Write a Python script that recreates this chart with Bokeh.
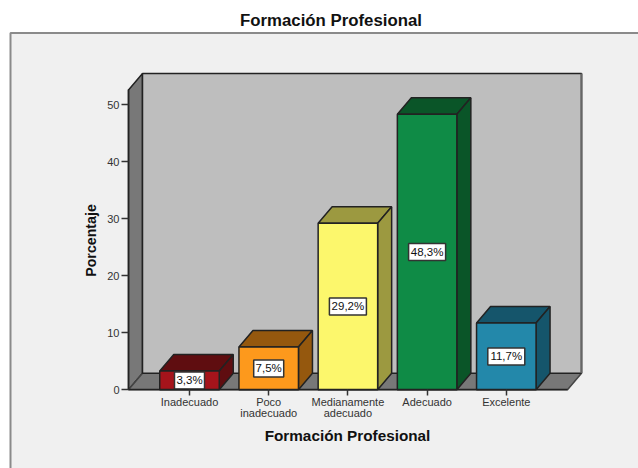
import math
from bokeh.embed import file_html
from bokeh.resources import INLINE
from bokeh.plotting import figure
from bokeh.core.properties import value
from bokeh.models import ColumnDataSource, FixedTicker, LinearAxis, Range1d

categories = ["Inadecuado", "Poco\ninadecuado", "Medianamente\nadecuado", "Adecuado", "Excelente"]
values = [3.3, 7.5, 29.2, 48.3, 11.7]
labels = ["3,3%", "7,5%", "29,2%", "48,3%", "11,7%"]
front_colors = ["#a5141b", "#fd991c", "#fcf76c", "#0f8b46", "#2388aa"]
side_colors = ["#5f0d10", "#95580e", "#9c9940", "#0a5528", "#15556b"]
y_ticks = [0, 10, 20, 30, 40, 50]
chart_title = "Formación Profesional"
x_title = "Formación Profesional"
y_title = "Porcentaje"

PANEL = "#f0f0f0"
WALL = "#787878"
BACK = "#bebebe"
EDGE = "#222222"
W, H = 638, 468

# scale of the pseudo-3D box: pixels per data unit, and where data zero falls
X_PX = 79.2
Y_PX = 5.706
X0 = 189.0
Y0 = 389.3


def fx(px):
    return (px - X0) / X_PX


def fy(px):
    return (Y0 - px) / Y_PX


DX = 14 / X_PX
DY = 16.5 / Y_PX
BAR_W = 59.5 / X_PX
X_LEFT = fx(128)
X_FLOOR_R = fx(567)
Y_WALL = 52.55

p = figure(width=W, height=H, output_backend="svg", toolbar_location=None,
           x_range=Range1d(fx(0), fx(W)), y_range=Range1d(fy(H), fy(0)),
           x_axis_type=None, y_axis_type=None,
           min_border=0, background_fill_color="white", border_fill_color="white",
           outline_line_color=None)
p.grid.visible = False

# panel behind the chart
p.quad(left=[fx(10)], right=[fx(W + 20)], top=[fy(32.5)], bottom=[fy(H + 20)],
       fill_color=PANEL, line_color="#8a8a8a", line_width=2)

# walls and floor
p.patch([X_LEFT, X_LEFT + DX, X_LEFT + DX, X_LEFT], [0, DY, Y_WALL + DY, Y_WALL],
        fill_color=WALL, line_color=EDGE, line_width=1.5)
p.patch([X_LEFT, X_LEFT + DX, X_FLOOR_R + DX, X_FLOOR_R], [0, DY, DY, 0],
        fill_color=WALL, line_color="#444444", line_width=1.5)
p.quad(left=[X_LEFT + DX], right=[X_FLOOR_R + DX], bottom=[DY], top=[Y_WALL + DY],
       fill_color=BACK, line_color=EDGE, line_width=1.5)
p.segment([X_FLOOR_R + DX], [DY], [X_FLOOR_R + DX], [Y_WALL + DY], line_color="#666666", line_width=2)

# bars
xs = list(range(len(values)))
for x, v, fc, sc in zip(xs, values, front_colors, side_colors):
    l, r = x - BAR_W / 2, x + BAR_W / 2
    p.patch([l, l + DX, r + DX, r], [v, v + DY, v + DY, v], fill_color=sc, line_color=EDGE, line_width=1.5)
    p.patch([r, r + DX, r + DX, r], [0, DY, v + DY, v], fill_color=sc, line_color=EDGE, line_width=1.5)
    p.quad(left=[l], right=[r], bottom=[0], top=[v], fill_color=fc, line_color=EDGE, line_width=1.5)

# value labels
src = ColumnDataSource(dict(x=xs, y=[v / 2 for v in values], t=labels,
                            w=[30, 30, 37, 37, 37]))
p.rect(x="x", y="y", width="w", height=17, width_units="screen", height_units="screen", source=src,
       fill_color="white", line_color="#333333", line_width=1.5)
p.text(x="x", y="y", text="t", source=src, text_align="center", text_baseline="middle",
       text_font=value("Liberation Sans"), text_font_size="11.5px", text_color="#111111")

# axes, placed inside the frame so that the panel can run behind them
xa = LinearAxis(ticker=FixedTicker(ticks=xs), fixed_location=0,
                major_label_overrides={i: c for i, c in enumerate(categories)},
                bounds=(X_LEFT, X_FLOOR_R),
                major_label_text_font="Liberation Sans", major_label_text_font_size="11px",
                major_label_text_color="#333333", major_label_standoff=0,
                major_label_text_line_height=0.95,
                major_tick_out=6, major_tick_in=0, minor_tick_line_color=None,
                axis_line_color=EDGE, axis_line_width=1.5, major_tick_line_color="#333333",
                major_tick_line_width=1.5)
p.add_layout(xa, "below")

ya = LinearAxis(ticker=FixedTicker(ticks=y_ticks), fixed_location=X_LEFT, bounds=(0, Y_WALL),
                major_label_text_font="Liberation Sans", major_label_text_font_size="11px",
                major_label_text_color="#333333", major_label_standoff=2,
                major_tick_out=7, major_tick_in=0, minor_tick_line_color=None,
                axis_line_color=EDGE, axis_line_width=1.5, major_tick_line_color="#333333",
                major_tick_line_width=1.5)
p.add_layout(ya, "left")

# titles
for txt, px, py, size, angle in [(chart_title, 330.5, 20, "16.8px", 0),
                                 (x_title, 347, 435, "15.3px", 0),
                                 (y_title, 90.5, 240, "14.2px", math.pi / 2)]:
    p.text(x=[fx(px)], y=[fy(py)], text=[txt], angle=angle, text_align="center", text_baseline="middle",
           text_font=value("Liberation Sans"), text_font_style="bold", text_font_size=size,
           text_color="#111111")

open("out.html", "w").write(file_html(p, INLINE))
